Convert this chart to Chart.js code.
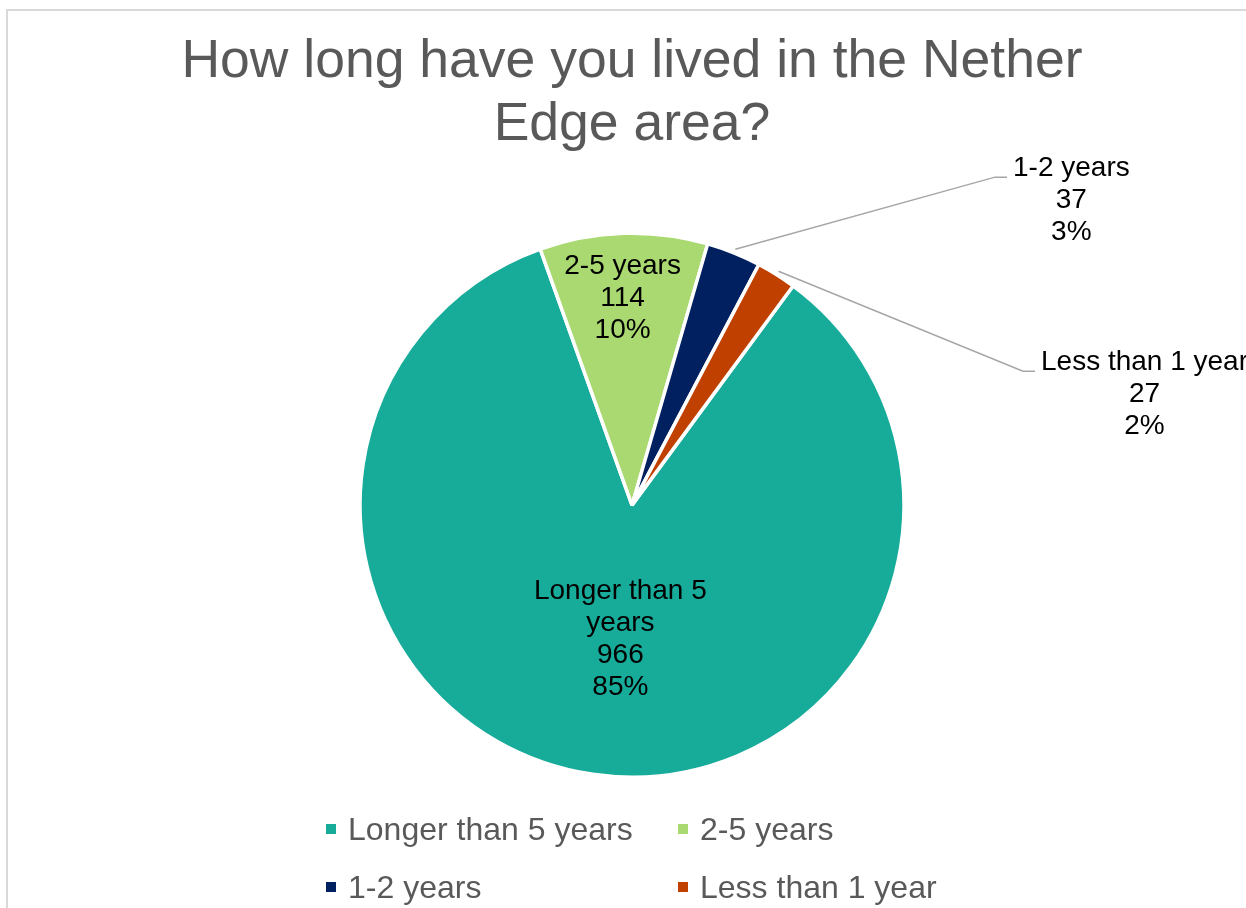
<!DOCTYPE html>
<html lang="en">
<head>
<meta charset="UTF-8">
<title>How long have you lived in the Nether Edge area?</title>
<script src="https://cdn.jsdelivr.net/npm/chart.js"></script>
<style>
    html, body { margin: 0; padding: 0; background: #fff; overflow: hidden; }
    canvas { display: block; }
</style>
</head>
<body>
<canvas id="pieChart" width="1246" height="908"></canvas>
<script>
// values
const categories = ['Longer than 5 years', '2-5 years', '1-2 years', 'Less than 1 year'];
const counts = [966, 114, 37, 27];
const percentLabels = ['85%', '10%', '3%', '2%'];
const sliceColors = ['#17ab9a', '#a9d970', '#002060', '#c04000'];
const titleLines = ['How long have you lived in the Nether', 'Edge area?'];

const FONT = "'Liberation Sans', Arial, sans-serif";

// where each slice label goes: inside at a fraction of the radius, or outside via a leader line
const labelPlace = [
    { inside: 0.5, dx: 8 },
    { inside: 0.76, dx: -3 },
    { elbow: [363, -328] },
    { elbow: [391, -134] }
];

function wrapText(ctx, text, maxW) {
    const words = text.split(' ');
    const lines = [];
    let cur = '';
    words.forEach(w => {
        const test = cur ? cur + ' ' + w : w;
        if (cur && ctx.measureText(test).width > maxW) {
            lines.push(cur);
            cur = w;
        } else {
            cur = test;
        }
    });
    if (cur) lines.push(cur);
    return lines;
}

// light frame round the chart (runs off the right and bottom)
const framePlugin = {
    id: 'frame',
    beforeDraw(chart) {
        const ctx = chart.ctx;
        ctx.save();
        ctx.strokeStyle = '#d9d9d9';
        ctx.lineWidth = 2;
        ctx.strokeRect(7, 10, 1400, 1100);
        ctx.restore();
    }
};

// data labels: name, count, percent
const sliceLabelPlugin = {
    id: 'sliceLabels',
    afterDatasetsDraw(chart) {
        const ctx = chart.ctx;
        const arcs = chart.getDatasetMeta(0).data;
        const lh = 32;
        ctx.save();
        ctx.font = '28px ' + FONT;
        ctx.fillStyle = '#000';
        ctx.textBaseline = 'middle';
        ctx.textAlign = 'center';
        arcs.forEach((arc, i) => {
            const p = arc.getProps(['x', 'y', 'startAngle', 'endAngle', 'outerRadius'], true);
            const mid = (p.startAngle + p.endAngle) / 2;
            const place = labelPlace[i];
            if (place.inside) {
                const r = p.outerRadius * place.inside;
                const cx = p.x + r * Math.cos(mid) + place.dx;
                const cy = p.y + r * Math.sin(mid);
                const lines = wrapText(ctx, categories[i], 200).concat([String(counts[i]), percentLabels[i]]);
                const y0 = cy - (lines.length - 1) * lh / 2;
                lines.forEach((t, k) => ctx.fillText(t, cx, y0 + k * lh));
            } else {
                const r0 = p.outerRadius + 4;
                const sx = p.x + r0 * Math.cos(mid);
                const sy = p.y + r0 * Math.sin(mid);
                const ex = p.x + place.elbow[0];
                const ey = p.y + place.elbow[1];
                ctx.save();
                ctx.strokeStyle = '#a6a6a6';
                ctx.lineWidth = 1.5;
                ctx.beginPath();
                ctx.moveTo(sx, sy);
                ctx.lineTo(ex, ey);
                ctx.lineTo(ex + 12, ey);
                ctx.stroke();
                ctx.restore();
                const lines = [categories[i], String(counts[i]), percentLabels[i]];
                const w = Math.max(...lines.map(t => ctx.measureText(t).width));
                const cx = ex + 18 + w / 2;
                const y0 = ey - 9;
                lines.forEach((t, k) => ctx.fillText(t, cx, y0 + k * lh));
            }
        });
        ctx.restore();
    }
};

// legend laid out in two aligned columns
const legendPlugin = {
    id: 'gridLegend',
    afterDraw(chart) {
        const ctx = chart.ctx;
        const colX = [326, 678];
        const rowY = [829, 887];
        ctx.save();
        ctx.font = '32px ' + FONT;
        ctx.textAlign = 'left';
        ctx.textBaseline = 'middle';
        categories.forEach((name, i) => {
            const x = colX[i % 2];
            const y = rowY[Math.floor(i / 2)];
            ctx.fillStyle = sliceColors[i];
            ctx.fillRect(x, y - 5, 10, 10);
            ctx.fillStyle = '#595959';
            ctx.fillText(name, x + 22, y + 2);
        });
        ctx.restore();
    }
};

const ctx = document.getElementById('pieChart').getContext('2d');
new Chart(ctx, {
    type: 'pie',
    data: {
        labels: categories,
        datasets: [{
            data: counts,
            backgroundColor: sliceColors,
            borderColor: '#ffffff',
            borderWidth: 3.5,
            radius: 272
        }]
    },
    options: {
        responsive: false,
        animation: false,
        rotation: 36.3,
        layout: { padding: { left: 18, right: 0, top: 0, bottom: 131 } },
        plugins: {
            legend: { display: false },
            tooltip: { enabled: false },
            title: {
                display: true,
                text: titleLines,
                color: '#595959',
                font: { family: FONT, size: 53.5, weight: 'normal', lineHeight: 1.18 },
                padding: { top: 31, bottom: 76 }
            }
        }
    },
    plugins: [framePlugin, sliceLabelPlugin, legendPlugin]
});
</script>
</body>
</html>
